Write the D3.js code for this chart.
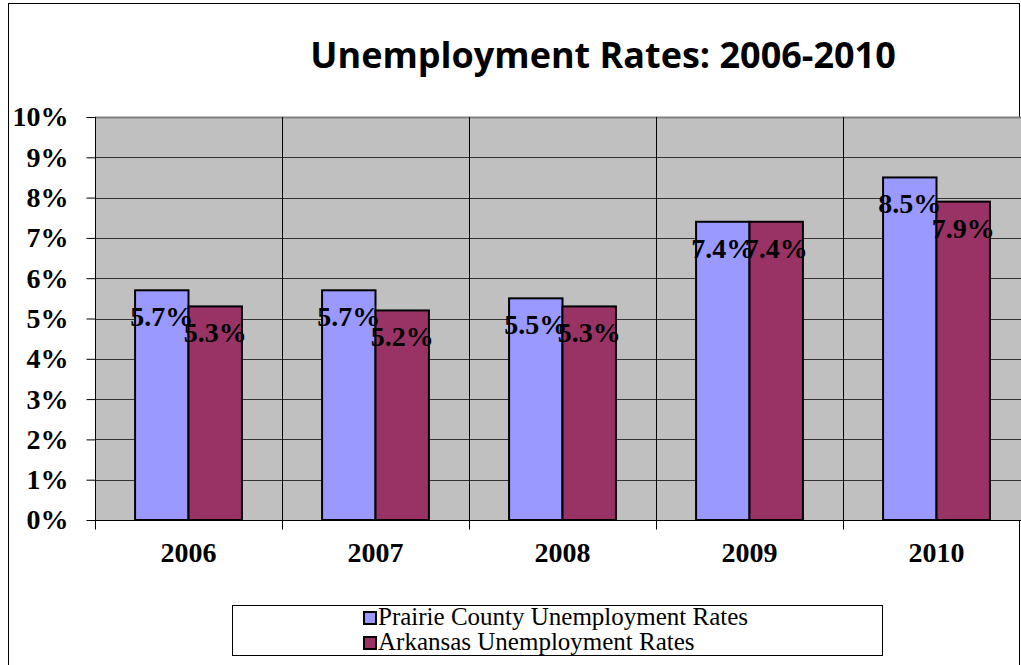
<!DOCTYPE html>
<html>
<head>
<meta charset="utf-8">
<script src="https://cdn.jsdelivr.net/npm/d3@7"></script>
<style>
  body { margin: 0; background: #fff; }
</style>
</head>
<body>
<div class="chart"></div>
<script>
//Data
var years = ["2006", "2007", "2008", "2009", "2010"];
var prairie = [5.7, 5.7, 5.5, 7.4, 8.5];
var arkansas = [5.3, 5.2, 5.3, 7.4, 7.9];
var seriesNames = ["Prairie County Unemployment Rates", "Arkansas Unemployment Rates"];
var seriesColors = ["#9999FF", "#993366"];
var yTicks = [0, 1, 2, 3, 4, 5, 6, 7, 8, 9, 10];

//Width and height
var w = 1021;
var h = 665;

//Plot area
var plotLeft = 95, plotTop = 117, plotBottom = 520;
var catW = 187;
var plotRight = plotLeft + catW * years.length;

var svg = d3.select(".chart")
            .append("svg")
            .attr("width", w)
            .attr("height", h);

//Outer chart border
svg.append("rect")
   .attr("x", 8.5).attr("y", 3.5)
   .attr("width", 1011).attr("height", 700)
   .style("fill", "white")
   .style("stroke", "#000")
   .style("stroke-width", 1);

//Title
svg.append("text")
   .attr("x", 603).attr("y", 68)
   .attr("text-anchor", "middle")
   .style("font-family", "'Open Sans', sans-serif")
   .style("font-weight", "bold")
   .style("font-size", "36px")
   .text("Unemployment Rates: 2006-2010");

//Scales
var x = d3.scaleBand()
          .domain(years)
          .range([plotLeft, plotRight])
          .paddingInner(0)
          .paddingOuter(0);

var y = d3.scaleLinear()
          .domain([0, 10])
          .range([plotBottom, plotTop]);

var x1 = d3.scaleBand()
           .domain([0, 1])
           .range([0, catW])
           .paddingInner(0)
           .paddingOuter(0.75);

//Plot background
svg.append("rect")
   .attr("x", plotLeft).attr("y", plotTop)
   .attr("width", plotRight - plotLeft).attr("height", plotBottom - plotTop)
   .style("fill", "#C0C0C0");

//Horizontal gridlines
svg.append("g")
   .selectAll("line")
   .data(yTicks.slice(1))
   .enter()
   .append("line")
   .attr("x1", plotLeft).attr("x2", plotRight)
   .attr("y1", function(d) { return Math.round(y(d)) + 0.5; })
   .attr("y2", function(d) { return Math.round(y(d)) + 0.5; })
   .style("stroke", function(d) { return d == 10 ? "#808080" : "#333"; })
   .style("stroke-width", function(d) { return d == 10 ? 2 : 1; });

//Vertical gridlines
svg.append("g")
   .selectAll("line")
   .data(years.slice(1))
   .enter()
   .append("line")
   .attr("x1", function(d) { return Math.round(x(d)) + 0.5; })
   .attr("x2", function(d) { return Math.round(x(d)) + 0.5; })
   .attr("y1", plotTop).attr("y2", plotBottom)
   .style("stroke", "#000");

//Bars
var series = [prairie, arkansas];
series.forEach(function(vals, s) {
  svg.append("g")
     .selectAll("rect")
     .data(vals)
     .enter()
     .append("rect")
     .attr("x", function(d, i) { return x(years[i]) + x1(s); })
     .attr("y", function(d) { return y(d); })
     .attr("width", x1.bandwidth())
     .attr("height", function(d) { return plotBottom - y(d); })
     .style("fill", seriesColors[s])
     .style("stroke", "#000")
     .style("stroke-width", 2);
});

//Y axis
var yAxis = d3.axisLeft(y)
              .tickValues(yTicks)
              .tickSize(9)
              .tickPadding(18)
              .tickFormat(function(d) { return d + "%"; });

var gy = svg.append("g")
   .attr("transform", "translate(" + (plotLeft + 0.5) + ",0)")
   .call(yAxis);
gy.select(".domain").remove();
gy.selectAll("text")
  .style("font-family", "'Liberation Serif', serif")
  .style("font-weight", "bold")
  .style("font-size", "28px")
  .style("fill", "#000");

//X axis
var gx = svg.append("g")
   .attr("transform", "translate(0," + (plotBottom + 0.5) + ")");
gx.append("line")
  .attr("x1", plotLeft).attr("x2", plotRight)
  .style("stroke", "#000");
gx.selectAll(".tk")
  .data(years.concat(["end"]))
  .enter()
  .append("line")
  .attr("x1", function(d, i) { return Math.round(plotLeft + i * catW) + 0.5; })
  .attr("x2", function(d, i) { return Math.round(plotLeft + i * catW) + 0.5; })
  .attr("y1", 0).attr("y2", 9)
  .style("stroke", "#000");
gx.selectAll("text")
  .data(years)
  .enter()
  .append("text")
  .attr("x", function(d) { return x(d) + catW / 2; })
  .attr("y", 41)
  .attr("text-anchor", "middle")
  .style("font-family", "'Liberation Serif', serif")
  .style("font-weight", "bold")
  .style("font-size", "28px")
  .text(function(d) { return d; });

//Y axis line
svg.append("line")
   .attr("x1", plotLeft + 0.5).attr("x2", plotLeft + 0.5)
   .attr("y1", plotTop).attr("y2", plotBottom)
   .style("stroke", "#000");

//Data labels
series.forEach(function(vals, s) {
  svg.append("g")
     .selectAll("text")
     .data(vals)
     .enter()
     .append("text")
     .attr("x", function(d, i) { return x(years[i]) + x1(s) + x1.bandwidth() / 2; })
     .attr("y", function(d) { return y(d) + 36; })
     .attr("text-anchor", "middle")
     .style("font-family", "'Liberation Serif', serif")
     .style("font-weight", "bold")
     .style("font-size", "28px")
     .text(function(d) { return d.toFixed(1) + "%"; });
});

//Legend
var legend = svg.append("g");
legend.append("rect")
      .attr("x", 232.5).attr("y", 605.5)
      .attr("width", 650).attr("height", 50)
      .style("fill", "white")
      .style("stroke", "#000");

seriesNames.forEach(function(name, s) {
  var ly = 612 + s * 25;
  legend.append("rect")
        .attr("x", 364).attr("y", ly)
        .attr("width", 12).attr("height", 12)
        .style("fill", seriesColors[s])
        .style("stroke", "#000")
        .style("stroke-width", 2);
  legend.append("text")
        .attr("x", 378).attr("y", ly + 13)
        .style("font-family", "'Liberation Serif', serif")
        .style("font-size", "25px")
        .text(name);
});
</script>
</body>
</html>
